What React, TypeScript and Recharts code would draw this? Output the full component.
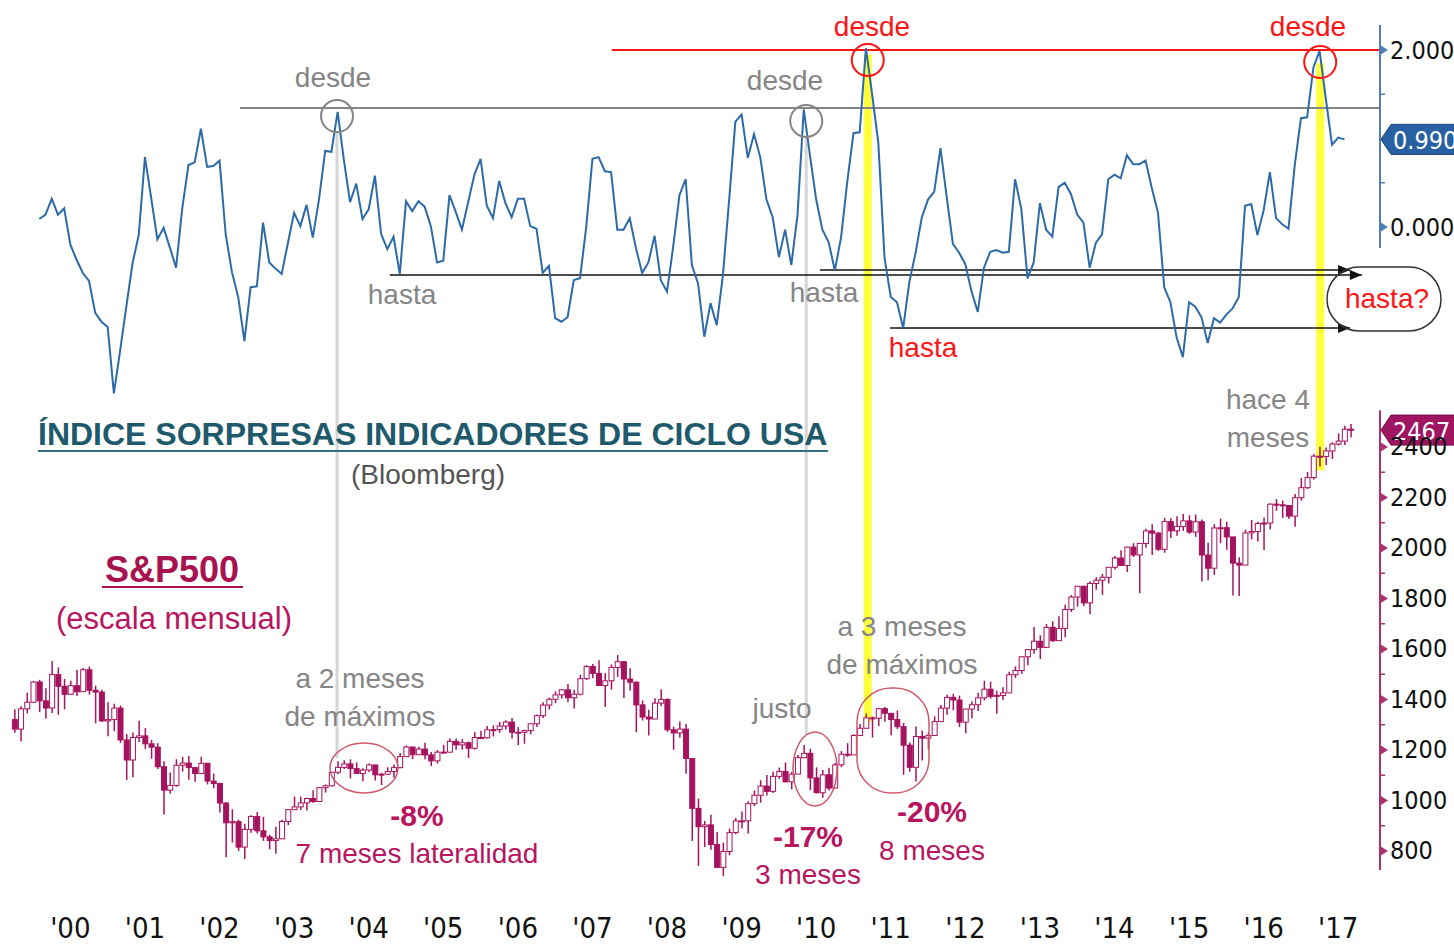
import React from 'react';
import { ComposedChart, Line, Bar, XAxis, YAxis, ReferenceLine, ReferenceDot } from 'recharts';

// Índice sorpresas (Bloomberg), mensual desde ene-2000 (mes 0)
const siValues = [
  0.09, 0.14, 0.32, 0.14, 0.21, -0.20, -0.37, -0.52, -0.61, -0.97, -1.07, -1.13,
  -1.88, -1.40, -0.90, -0.41, -0.09, 0.79, 0.33, -0.14, -0.01, -0.23, -0.46, 0.21,
  0.70, 0.73, 1.11, 0.68, 0.69, 0.75, -0.09, -0.51, -0.79, -1.29, -0.68, -0.67,
  0.05, -0.40, -0.47, -0.53, -0.18, 0.16, 0.01, 0.25, -0.12, 0.31, 0.86, 0.85,
  1.30, 0.76, 0.28, 0.49, 0.09, 0.20, 0.58, -0.08, -0.25, -0.11, -0.53, 0.29,
  0.18, 0.29, 0.23, 0.01, -0.40, -0.38, 0.36, 0.17, -0.03, 0.28, 0.59, 0.77,
  0.24, 0.10, 0.52, 0.27, 0.11, 0.32, 0.32, 0.01, -0.02, -0.52, -0.44, -1.03,
  -1.07, -1.02, -0.60, -0.58, 0.00, 0.77, 0.79, 0.63, 0.62, -0.03, -0.03, 0.10,
  -0.24, -0.52, -0.40, -0.10, -0.60, -0.73, -0.22, 0.36, 0.54, -0.43, -0.64, -1.24,
  -0.86, -1.11, -0.54, 0.31, 1.19, 1.27, 0.78, 1.05, 0.79, 0.31, 0.11, -0.34,
  -0.03, -0.43, 0.14, 1.33, 0.81, 0.31, -0.03, -0.17, -0.49, -0.12, 0.51, 1.06,
  1.07, 2.02, 1.50, 0.95, -0.35, -0.79, -0.85, -1.14, -0.62, -0.29, 0.11, 0.31,
  0.40, 0.89, 0.34, -0.19, -0.29, -0.42, -0.73, -0.96, -0.46, -0.28, -0.26, -0.29,
  -0.28, 0.54, 0.21, -0.58, -0.40, 0.27, -0.03, -0.11, 0.45, 0.50, 0.37, 0.14,
  0.05, -0.46, -0.18, -0.08, 0.54, 0.59, 0.55, 0.81, 0.71, 0.71, 0.75, 0.44,
  0.16, -0.68, -0.85, -1.25, -1.47, -0.85, -0.90, -1.02, -1.31, -1.03, -1.08, -0.99,
  -0.92, -0.79, 0.24, 0.26, -0.09, 0.19, 0.62, 0.10, 0.03, -0.02, 0.70, 1.23,
  1.24, 1.80, 1.99, 1.45, 0.93, 1.01, 0.99,
];

// S&P500 mensual, desde sep-1999 (mes -4)
const spStartMonth = -4;
const spFirstOpen = 1320.4;
const spClose = [
  1282.7, 1362.9, 1389.0, 1469.3,
  1394.5, 1366.4, 1498.6, 1452.4, 1420.6, 1454.6, 1430.8, 1517.7, 1436.5, 1429.4, 1315.2, 1320.3,
  1366.0, 1239.9, 1160.3, 1249.5, 1255.8, 1224.4, 1211.2, 1133.6, 1040.9, 1059.8, 1139.5, 1148.1,
  1130.2, 1106.7, 1147.4, 1076.9, 1067.1, 989.8, 911.6, 916.1, 815.3, 885.8, 936.3, 879.8,
  855.7, 841.2, 848.2, 916.9, 963.6, 974.5, 990.3, 1008.0, 996.0, 1050.7, 1058.2, 1111.9,
  1131.1, 1144.9, 1126.2, 1107.3, 1120.7, 1140.8, 1101.7, 1104.2, 1114.6, 1130.2, 1173.8, 1211.9,
  1181.3, 1203.6, 1180.6, 1156.9, 1191.5, 1191.3, 1234.2, 1220.3, 1228.8, 1207.0, 1249.5, 1248.3,
  1280.1, 1280.7, 1294.9, 1310.6, 1270.1, 1270.2, 1276.7, 1303.8, 1335.9, 1377.9, 1400.6, 1418.3,
  1438.2, 1406.8, 1420.9, 1482.4, 1530.6, 1503.4, 1455.3, 1474.0, 1526.8, 1549.4, 1481.1, 1468.4,
  1378.6, 1330.6, 1322.7, 1385.6, 1400.4, 1280.0, 1267.4, 1282.8, 1166.4, 968.8, 896.2, 903.3,
  825.9, 735.1, 797.9, 872.8, 919.1, 919.3, 987.5, 1020.6, 1057.1, 1036.2, 1095.6, 1115.1,
  1073.9, 1104.5, 1169.4, 1186.7, 1089.4, 1030.7, 1101.6, 1049.3, 1141.2, 1183.3, 1180.6, 1257.6,
  1286.1, 1327.2, 1325.8, 1363.6, 1345.2, 1320.6, 1292.3, 1219.0, 1131.4, 1253.3, 1247.0, 1257.6,
  1312.4, 1365.7, 1408.5, 1397.9, 1310.3, 1362.2, 1379.3, 1406.6, 1440.7, 1412.2, 1416.2, 1426.2,
  1498.1, 1514.7, 1569.2, 1597.6, 1630.7, 1606.3, 1685.7, 1633.0, 1681.6, 1756.5, 1805.8, 1848.4,
  1782.6, 1859.5, 1872.3, 1883.9, 1923.6, 1960.2, 1930.7, 2003.4, 1972.3, 2018.1, 2067.6, 2058.9,
  1995.0, 2104.5, 2067.9, 2085.5, 2107.4, 2063.1, 2104.0, 1972.2, 1920.0, 2079.4, 2080.4, 2043.9,
  1940.2, 1932.2, 2059.7, 2065.3, 2097.0, 2098.9, 2173.6, 2170.9, 2168.3, 2126.2, 2199.0, 2238.8,
  2278.9, 2363.6, 2362.7, 2384.2, 2411.8, 2423.4, 2470.3, 2467.0,
];
const spHigh = [
  1361.7, 1373.2, 1427.0, 1473.0,
  1478.0, 1444.6, 1552.9, 1527.2, 1481.5, 1474.6, 1517.3, 1525.2, 1530.1, 1454.8, 1438.5, 1389.1,
  1383.4, 1376.4, 1263.0, 1269.3, 1315.9, 1286.6, 1239.8, 1226.3, 1155.4, 1110.6, 1163.4, 1173.0,
  1176.6, 1130.2, 1173.0, 1147.8, 1106.6, 1070.7, 994.5, 965.0, 924.0, 907.4, 941.8, 954.3,
  935.1, 864.6, 895.9, 924.2, 965.4, 1015.3, 1015.4, 1011.0, 1040.3, 1053.8, 1063.7, 1112.6,
  1155.4, 1158.9, 1163.2, 1150.6, 1127.7, 1146.3, 1140.8, 1109.7, 1131.5, 1142.1, 1188.5, 1217.9,
  1211.9, 1212.4, 1229.1, 1191.9, 1199.6, 1219.6, 1245.2, 1245.9, 1243.1, 1233.3, 1270.6, 1275.8,
  1294.9, 1297.6, 1310.9, 1318.2, 1326.7, 1290.7, 1280.4, 1306.7, 1340.3, 1389.5, 1407.9, 1431.8,
  1441.6, 1461.6, 1438.9, 1498.0, 1535.6, 1540.6, 1555.9, 1503.9, 1538.7, 1576.1, 1552.8, 1523.6,
  1471.8, 1396.0, 1359.7, 1404.6, 1440.2, 1404.1, 1292.2, 1313.2, 1303.0, 1167.0, 1007.5, 918.9,
  943.9, 875.0, 832.9, 888.7, 930.2, 956.2, 996.7, 1039.5, 1080.2, 1101.4, 1113.7, 1130.4,
  1150.5, 1112.4, 1180.2, 1219.8, 1205.1, 1131.2, 1120.9, 1129.2, 1148.7, 1196.1, 1227.1, 1262.6,
  1302.7, 1344.1, 1332.3, 1366.5, 1370.6, 1345.2, 1356.5, 1307.4, 1229.3, 1292.7, 1277.6, 1269.4,
  1333.5, 1378.0, 1419.2, 1422.4, 1415.3, 1363.5, 1391.7, 1426.7, 1474.5, 1470.9, 1434.3, 1448.0,
  1509.9, 1530.9, 1570.3, 1597.6, 1687.2, 1654.2, 1698.8, 1709.7, 1729.9, 1775.2, 1813.6, 1849.4,
  1850.8, 1867.9, 1883.9, 1897.3, 1924.0, 1968.2, 1991.4, 2005.0, 2019.3, 2018.2, 2075.8, 2093.6,
  2064.4, 2119.6, 2117.5, 2125.9, 2134.7, 2129.9, 2132.8, 2112.7, 2020.9, 2094.3, 2116.5, 2104.3,
  2038.2, 1962.9, 2072.2, 2111.1, 2103.5, 2120.6, 2177.1, 2193.8, 2187.9, 2169.6, 2214.1, 2277.5,
  2300.9, 2371.5, 2401.0, 2398.2, 2418.7, 2453.8, 2484.0, 2490.9,
];
const spLow = [
  1268.4, 1233.7, 1345.0, 1387.4,
  1350.1, 1325.1, 1346.6, 1339.4, 1361.1, 1420.0, 1413.9, 1431.0, 1419.4, 1305.8, 1311.0, 1254.1,
  1274.6, 1228.3, 1081.2, 1091.9, 1232.0, 1203.0, 1165.5, 1124.9, 944.8, 1026.8, 1054.3, 1114.5,
  1081.7, 1074.4, 1106.7, 1063.5, 1048.0, 952.9, 775.7, 833.4, 800.2, 768.6, 872.1, 869.5,
  840.3, 806.3, 788.9, 847.9, 902.8, 963.0, 962.1, 960.8, 990.4, 995.9, 1031.2, 1055.6,
  1105.1, 1124.4, 1087.2, 1107.2, 1076.3, 1113.3, 1078.8, 1060.7, 1101.3, 1090.2, 1127.6, 1173.8,
  1163.8, 1180.0, 1163.7, 1136.2, 1146.2, 1188.3, 1191.3, 1201.1, 1201.1, 1168.2, 1201.1, 1246.6,
  1245.7, 1253.6, 1268.4, 1280.7, 1245.3, 1219.3, 1224.5, 1261.3, 1290.9, 1327.1, 1360.6, 1385.9,
  1403.9, 1389.4, 1363.9, 1416.4, 1476.7, 1484.2, 1454.3, 1370.6, 1439.3, 1489.6, 1406.1, 1435.7,
  1270.1, 1316.8, 1256.9, 1324.4, 1373.1, 1272.0, 1200.4, 1248.5, 1106.4, 839.8, 741.0, 815.7,
  804.5, 734.5, 700.0, 783.3, 866.1, 888.9, 869.3, 978.5, 991.0, 1020.2, 1029.4, 1085.9,
  1071.6, 1044.5, 1105.4, 1170.7, 1040.8, 1028.3, 1010.9, 1039.7, 1048.1, 1131.9, 1173.0, 1186.6,
  1257.6, 1289.1, 1249.1, 1294.7, 1311.8, 1258.1, 1282.9, 1101.5, 1114.2, 1074.8, 1158.7, 1202.4,
  1258.9, 1312.4, 1340.0, 1357.4, 1291.0, 1266.7, 1325.4, 1354.7, 1396.6, 1403.3, 1343.4, 1398.1,
  1426.2, 1485.0, 1501.5, 1536.0, 1581.3, 1560.3, 1604.6, 1627.5, 1633.4, 1646.5, 1746.2, 1767.9,
  1770.4, 1737.9, 1834.4, 1814.4, 1859.8, 1915.0, 1930.7, 1904.8, 1964.0, 1820.7, 2001.0, 1972.6,
  1988.4, 1980.9, 2039.7, 2048.4, 2067.9, 2056.3, 2044.0, 1867.0, 1871.9, 1893.7, 2019.4, 1993.3,
  1812.3, 1810.1, 1937.1, 2033.8, 2025.9, 1991.7, 2074.0, 2147.6, 2119.1, 2114.7, 2083.8, 2187.4,
  2233.6, 2271.7, 2322.3, 2328.9, 2352.7, 2405.7, 2407.7, 2437.8,
];

const yearLabels = ["'00", "'01", "'02", "'03", "'04", "'05", "'06", "'07", "'08", "'09",
  "'10", "'11", "'12", "'13", "'14", "'15", "'16", "'17"];
const siTicks = [0, 0.5, 1.5, 2];
const spTicks = [800, 900, 1000, 1100, 1200, 1300, 1400, 1500, 1600, 1700, 1800, 1900, 2000, 2100, 2200, 2300, 2400];
const siLast = 0.99;
const spLast = 2467;

// layout
const W = 1454;
const H = 944;
const MARGIN = { top: 20, right: 10, bottom: 0, left: 5 };
const X_DOMAIN = [-5.52, 215.72];
const X_MAX = X_DOMAIN[1];
const SI_DOMAIN = [-7.548, 2.339];
const SP_DOMAIN = [625.7, 4091.1];

const SI_LINE = '#2d6aa8';
const SI_AXIS = '#4f7fb5';
const SP_COLOR = '#a5135f';
const SP_AXIS = '#a8336f';
const GRAY = '#858585';
const RED = '#ff1414';
const MAROON = '#b8155e';
const YELLOW = '#ffff3c';
const AXIS_FONT = '"DejaVu Sans Condensed", "DejaVu Sans", sans-serif';
const FONT = '"Liberation Sans", Arial, sans-serif';

const siData = siValues.map((v, i) => ({ m: i, si: v }));
const spData = spClose.map((c, i) => ({
  m: spStartMonth + i,
  open: i === 0 ? spFirstOpen : spClose[i - 1],
  close: c,
  high: spHigh[i],
  low: spLow[i],
  range: [spLow[i], spHigh[i]],
}));
const yearTicks = yearLabels.map((_, i) => 12 * i + 5);

const Candle = (props: any) => {
  const { x, width, payload } = props;
  let { y, height } = props;
  if (height < 0) {
    y = y + height;
    height = -height;
  }
  const { open, close, high, low } = payload;
  const k = high === low ? 0 : height / (high - low);
  const yo = y + (high - open) * k;
  const yc = y + (high - close) * k;
  const cx = x + width / 2;
  const up = close >= open;
  const top = Math.min(yo, yc);
  const h = Math.max(Math.abs(yc - yo), 1);
  return (
    <g>
      <line x1={cx} x2={cx} y1={y} y2={y + height} stroke={SP_COLOR} strokeWidth={1.5} />
      <rect x={x} y={top} width={width} height={h} fill={up ? '#fff' : SP_COLOR} stroke={SP_COLOR} strokeWidth={1} />
    </g>
  );
};

const SiTick = (props: any) => {
  const { x, y, payload } = props;
  const v = payload.value;
  if (v === 0 || v === 2) {
    return (
      <g>
        <path d={`M${x},${y - 5}L${x + 8},${y}L${x},${y + 5}Z`} fill={SI_AXIS} />
        <text x={x + 10} y={y} dominantBaseline="central" fontSize={25} fill="#111" fontFamily={AXIS_FONT}>
          {v.toFixed(3)}
        </text>
      </g>
    );
  }
  return <line x1={x} x2={x + 5} y1={y} y2={y} stroke={SI_AXIS} strokeWidth={1.5} />;
};

const SpTick = (props: any) => {
  const { x, y, payload } = props;
  const v = payload.value;
  if (v % 200 === 0) {
    return (
      <g>
        <path d={`M${x},${y - 5}L${x + 8},${y}L${x},${y + 5}Z`} fill={SP_AXIS} />
        <text x={x + 10} y={y} dominantBaseline="central" fontSize={25} fill="#111" fontFamily={AXIS_FONT}>
          {v}
        </text>
      </g>
    );
  }
  return <line x1={x} x2={x + 5} y1={y} y2={y} stroke={SP_AXIS} strokeWidth={1.5} />;
};

const YearTick = (props: any) => {
  const { x, y, payload } = props;
  const i = yearTicks.indexOf(payload.value);
  return (
    <text x={x} y={y + 43} textAnchor="middle" fontSize={29} fill="#111" fontFamily={AXIS_FONT}>
      {yearLabels[i]}
    </text>
  );
};

const Arrow = (p: any) => (
  <path d={`M${p.cx - 12},${p.cy - 5}L${p.cx},${p.cy}L${p.cx - 12},${p.cy + 5}Z`} fill="#111" />
);

const valueTag = (text: string, fill: string, edge: string) => (p: any) => (
  <g>
    <path
      d={`M${p.cx + 1},${p.cy}L${p.cx + 11},${p.cy - 15}L${p.cx + 90},${p.cy - 15}L${p.cx + 90},${p.cy + 15}L${p.cx + 11},${p.cy + 15}Z`}
      fill={fill}
      stroke={edge}
      strokeWidth={1}
    />
    <text x={p.cx + 13} y={p.cy + 1} dominantBaseline="central" fontSize={25} fill="#fff" fontFamily={AXIS_FONT}>
      {text}
    </text>
  </g>
);

const notes = [
  { t: 'desde', x: 333, y: 77, c: GRAY },
  { t: 'desde', x: 785, y: 80, c: GRAY },
  { t: 'desde', x: 872, y: 26, c: RED },
  { t: 'desde', x: 1308, y: 26, c: RED },
  { t: 'hasta', x: 402, y: 294, c: GRAY },
  { t: 'hasta', x: 824, y: 292, c: GRAY },
  { t: 'hasta', x: 923, y: 347, c: RED },
  { t: 'hasta?', x: 1387, y: 298, c: RED },
  { t: '(Bloomberg)', x: 428, y: 474, c: '#555' },
  { t: '(escala mensual)', x: 174, y: 618, c: MAROON, s: 31 },
  { t: 'a 2 meses', x: 360, y: 678, c: GRAY },
  { t: 'de máximos', x: 360, y: 716, c: GRAY },
  { t: '-8%', x: 417, y: 815, c: MAROON, b: true },
  { t: '7 meses lateralidad', x: 417, y: 853, c: MAROON },
  { t: 'justo', x: 782, y: 708, c: GRAY },
  { t: '-17%', x: 808, y: 836, c: MAROON, b: true },
  { t: '3 meses', x: 808, y: 874, c: MAROON },
  { t: 'a 3 meses', x: 902, y: 626, c: GRAY },
  { t: 'de máximos', x: 902, y: 664, c: GRAY },
  { t: '-20%', x: 932, y: 811, c: MAROON, b: true },
  { t: '8 meses', x: 932, y: 850, c: MAROON },
  { t: 'hace 4', x: 1268, y: 399, c: GRAY },
  { t: 'meses', x: 1268, y: 437, c: GRAY },
];

const chartProps = { width: W, height: H, margin: MARGIN };

export default function App() {
  return (
    <div style={{ position: 'absolute', left: 0, top: 0, width: W, height: H, background: '#fff', overflow: 'hidden' }}>
      <div style={{ position: 'absolute', left: 0, top: 0 }}>
        <ComposedChart {...chartProps} data={siData}>
          <XAxis type="number" dataKey="m" domain={X_DOMAIN} allowDataOverflow ticks={yearTicks}
            height={49} tick={false} axisLine={false} tickLine={false} />
          <YAxis orientation="right" width={64} domain={SI_DOMAIN} allowDataOverflow ticks={siTicks}
            tick={SiTick} tickSize={0} tickMargin={0} axisLine={false} tickLine={false} />
          <ReferenceLine ifOverflow="visible" segment={[{ x: 47.9, y: 1.07 }, { x: 47.9, y: -6.0 }]} stroke="#d6d6d6" strokeWidth={3} />
          <ReferenceLine ifOverflow="visible" segment={[{ x: 123.4, y: 1.02 }, { x: 123.4, y: -5.74 }]} stroke="#d6d6d6" strokeWidth={3} />
          <ReferenceLine ifOverflow="visible" segment={[{ x: 133.3, y: 1.95 }, { x: 133.3, y: -5.59 }]} stroke={YELLOW} strokeWidth={8} />
          <ReferenceLine ifOverflow="visible" segment={[{ x: 206.1, y: 1.85 }, { x: 206.1, y: -2.75 }]} stroke={YELLOW} strokeWidth={8} />
          <ReferenceLine ifOverflow="visible" segment={[{ x: 32.3, y: 1.345 }, { x: X_MAX, y: 1.345 }]} stroke={GRAY} strokeWidth={2} />
          <ReferenceLine ifOverflow="visible" segment={[{ x: 92.1, y: 2 }, { x: X_MAX, y: 2 }]} stroke={RED} strokeWidth={2} />
          <ReferenceLine ifOverflow="visible" segment={[{ x: 56.4, y: -0.542 }, { x: 212.8, y: -0.542 }]} stroke="#111" strokeWidth={1.5} />
          <ReferenceLine ifOverflow="visible" segment={[{ x: 125.6, y: -0.486 }, { x: 210.9, y: -0.486 }]} stroke="#111" strokeWidth={1.5} />
          <ReferenceLine ifOverflow="visible" segment={[{ x: 136.9, y: -1.141 }, { x: 210.9, y: -1.141 }]} stroke="#111" strokeWidth={1.5} />
          <ReferenceLine ifOverflow="visible" segment={[{ x: X_MAX, y: 2.283 }, { x: X_MAX, y: -0.237 }]} stroke={SI_AXIS} strokeWidth={2} />
          <Line type="linear" dataKey="si" stroke={SI_LINE} strokeWidth={2} dot={false} isAnimationActive={false} />
          <ReferenceDot ifOverflow="visible" x={47.9} y={1.254} r={16} fill="none" stroke={GRAY} strokeWidth={2} />
          <ReferenceDot ifOverflow="visible" x={123.4} y={1.198} r={16} fill="none" stroke={GRAY} strokeWidth={2} />
          <ReferenceDot ifOverflow="visible" x={133.3} y={1.887} r={16} fill="none" stroke={RED} strokeWidth={2} />
          <ReferenceDot ifOverflow="visible" x={206.1} y={1.864} r={16} fill="none" stroke={RED} strokeWidth={2} />
          <ReferenceDot ifOverflow="visible" x={210.9} y={-0.486} shape={Arrow} />
          <ReferenceDot ifOverflow="visible" x={212.8} y={-0.542} shape={Arrow} />
          <ReferenceDot ifOverflow="visible" x={210.9} y={-1.141} shape={Arrow} />
          <ReferenceDot ifOverflow="visible" x={X_MAX} y={siLast} shape={valueTag(siLast.toFixed(3), '#2861a3', '#1b3f6e')} />
        </ComposedChart>
      </div>
      <div style={{ position: 'absolute', left: 0, top: 0 }}>
        <ComposedChart {...chartProps} data={spData}>
          <XAxis type="number" dataKey="m" domain={X_DOMAIN} allowDataOverflow ticks={yearTicks}
            height={49} tick={YearTick} tickSize={0} tickMargin={0} axisLine={false} tickLine={false} />
          <YAxis orientation="right" width={64} domain={SP_DOMAIN} allowDataOverflow ticks={spTicks}
            tick={SpTick} tickSize={0} tickMargin={0} axisLine={false} tickLine={false} />
          <ReferenceLine ifOverflow="visible" segment={[{ x: X_MAX, y: 2546 }, { x: X_MAX, y: 725 }]} stroke={SP_AXIS} strokeWidth={2} />
          <Bar dataKey="range" shape={Candle} barSize={5} isAnimationActive={false} />
          <ReferenceDot ifOverflow="visible" x={X_MAX} y={spLast} shape={valueTag(String(spLast), '#a01561', '#6d0e42')} />
        </ComposedChart>
      </div>
      <svg width={W} height={H} style={{ position: 'absolute', left: 0, top: 0, pointerEvents: 'none' }} fontFamily={FONT}>
        <rect x={1327} y={267} width={114} height={64} rx={32} fill="none" stroke="#333" strokeWidth={1.5} />
        <ellipse cx={364} cy={768} rx={34} ry={25} fill="none" stroke="#d05a6a" strokeWidth={1.5} />
        <ellipse cx={815} cy={769} rx={22} ry={37} fill="none" stroke="#d05a6a" strokeWidth={1.5} />
        <rect x={857} y={688} width={72} height={105} rx={34} fill="none" stroke="#d05a6a" strokeWidth={1.5} />
        <text x={38} y={434} dominantBaseline="central" fontSize={32} fontWeight="bold" fill="#1e5a6b">
          ÍNDICE SORPRESAS INDICADORES DE CICLO USA
        </text>
        <line x1={38} x2={828} y1={451} y2={451} stroke="#2f6f80" strokeWidth={2} />
        <text x={172} y={569} textAnchor="middle" dominantBaseline="central" fontSize={36} fontWeight="bold" fill="#a8124f">
          S&amp;P500
        </text>
        <line x1={102} x2={243} y1={587} y2={587} stroke="#a8124f" strokeWidth={2} />
        {notes.map((n, i) => (
          <text key={i} x={n.x} y={n.y} textAnchor="middle" dominantBaseline="central"
            fontSize={n.s || (n.b ? 30 : 28)} fontWeight={n.b ? 'bold' : 'normal'} fill={n.c}>
            {n.t}
          </text>
        ))}
      </svg>
    </div>
  );
}
